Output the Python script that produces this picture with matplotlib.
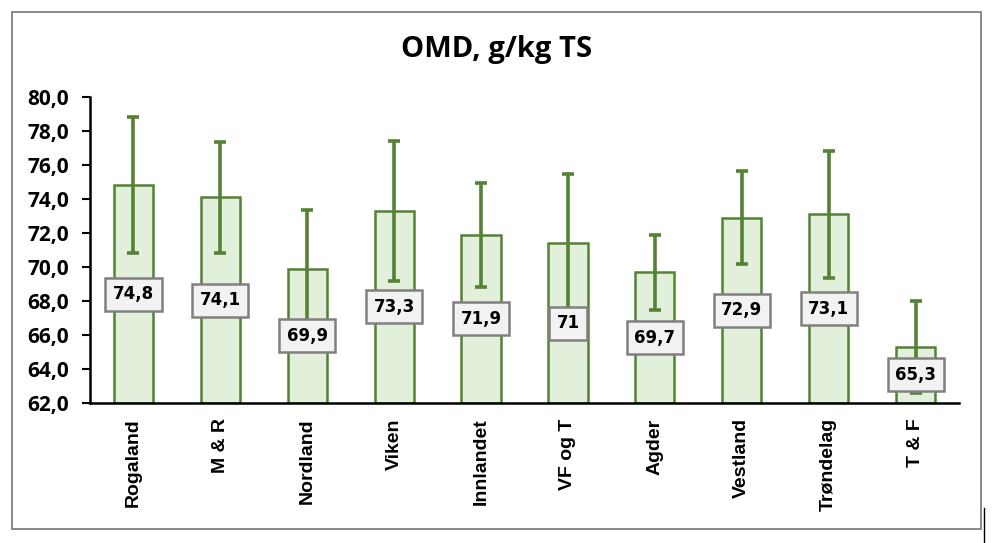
import matplotlib
matplotlib.use("Agg")
import matplotlib.pyplot as plt
from matplotlib.patches import Rectangle
from matplotlib.lines import Line2D
import numpy as np

categories = ["Rogaland", "M & R", "Nordland", "Viken", "Innlandet",
              "VF og T", "Agder", "Vestland", "Trøndelag", "T & F"]
values = [74.8, 74.1, 69.9, 73.3, 71.9, 71.4, 69.7, 72.9, 73.1, 65.3]
errors = [4.0, 3.25, 3.45, 4.1, 3.05, 4.05, 2.2, 2.75, 3.75, 2.7]
value_labels = ["74,8", "74,1", "69,9", "73,3", "71,9", "71", "69,7", "72,9", "73,1", "65,3"]
yticks = [62, 64, 66, 68, 70, 72, 74, 76, 78, 80]
ytick_labels = ["62,0", "64,0", "66,0", "68,0", "70,0", "72,0", "74,0", "76,0", "78,0", "80,0"]
title = "OMD, g/kg TS"

W, H = 994, 543
fig = plt.figure(figsize=(W / 100, H / 100), dpi=100)

# outer chart border
fig.add_artist(Rectangle((12 / W, 1 - 529 / H), (981 - 12) / W, (529 - 12) / H,
                         transform=fig.transFigure, fill=False,
                         edgecolor="#7f7f7f", linewidth=1.3))
fig.add_artist(Line2D([984 / W, 984 / W], [1 - 508 / H, 0], transform=fig.transFigure,
                      color="black", linewidth=1.0))

ax = fig.add_axes([90 / W, 1 - 403 / H, (959 - 90) / W, (403 - 97) / H])
x = np.arange(len(categories))
green = "#548235"
ax.bar(x, [v - yticks[0] for v in values], bottom=yticks[0], width=0.45,
       color="#e2efda", edgecolor=green, linewidth=1.8, zorder=2)
ax.errorbar(x, values, yerr=errors, fmt="none", ecolor=green, elinewidth=2.6,
            capsize=4, capthick=2.6, zorder=3)

for xi, v, lab in zip(x, values, value_labels):
    ax.text(xi, (v + yticks[0]) / 2, lab, ha="center", va="center",
            fontsize=12, fontweight="bold", family="DejaVu Sans", color="black",
            zorder=5,
            bbox=dict(boxstyle="square,pad=0.45", facecolor="#f2f2f2",
                      edgecolor="#808080", linewidth=1.8))

ax.set_xlim(-0.5, len(categories) - 0.5)
ax.set_ylim(yticks[0], yticks[-1])
ax.set_yticks(yticks)
ax.set_yticklabels(ytick_labels, fontsize=15, fontweight="bold", family="Open Sans")
ax.set_xticks(x)
ax.set_xticklabels(categories, rotation=90, fontsize=14, fontweight="bold",
                   family="Liberation Sans")
ax.tick_params(axis="x", length=0, pad=11)
ax.tick_params(axis="y", length=6, width=1.5, direction="out", pad=9)
for s in ["top", "right"]:
    ax.spines[s].set_visible(False)
for s in ["left", "bottom"]:
    ax.spines[s].set_linewidth(1.8)
    ax.spines[s].set_color("black")

fig.text(497 / W, 1 - 50 / H, title, ha="center", va="center", fontsize=21,
         fontweight="bold", family="Open Sans")

fig.savefig("out.png", dpi=100)
